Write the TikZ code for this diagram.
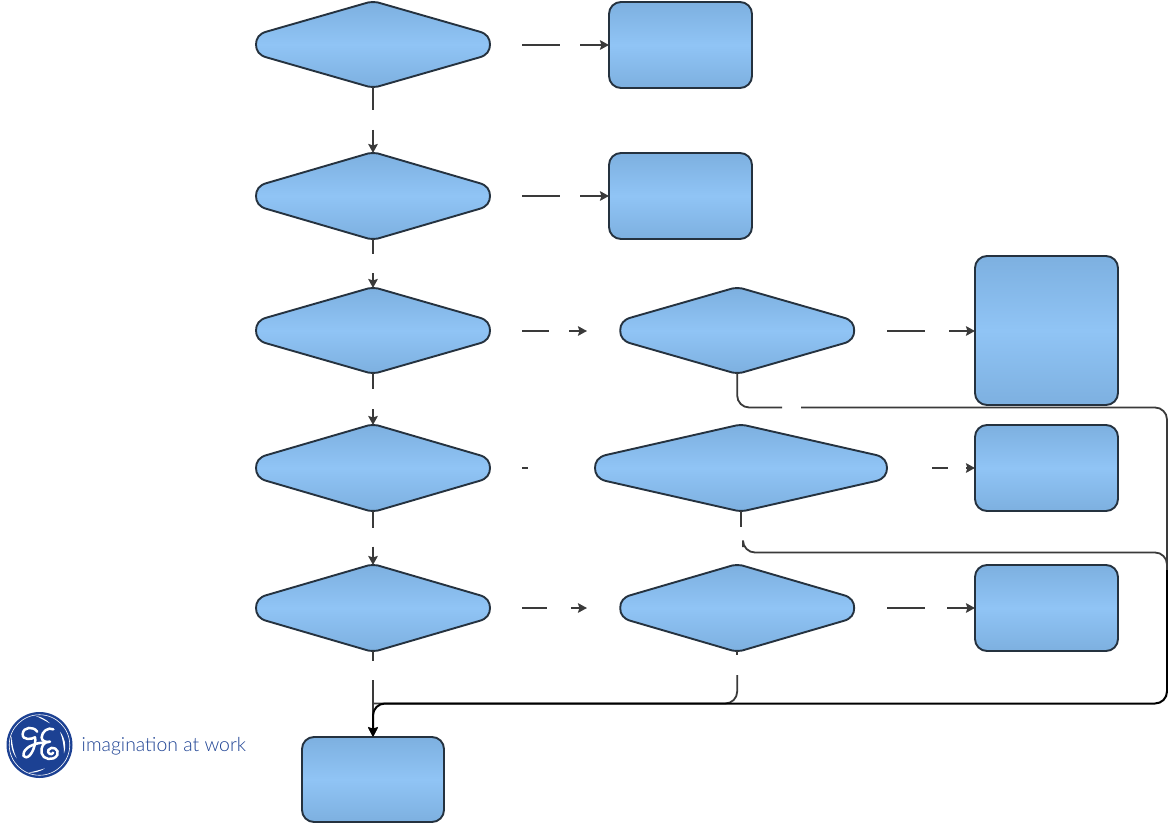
\documentclass[tikz,border=0pt]{standalone}
\usepackage{fontspec}
\newfontfamily\logofont[UprightFont={* Light}]{Lato}
\usetikzlibrary{arrows.meta,calc}
\definecolor{edgeblue}{HTML}{7DB0E0}
\definecolor{midblue}{HTML}{90C4F5}
\definecolor{outl}{HTML}{25323F}
\definecolor{conn}{HTML}{3A3A3A}
\definecolor{geblue}{HTML}{1C4193}
\tikzset{
  x=1pt,y=-1pt,
  shapefill/.style={draw=outl,line width=1.9pt,line join=round,top color=edgeblue,bottom color=edgeblue,middle color=midblue},
  flow/.style={draw=conn,line width=2pt},
  tipped/.style={flow,-{Stealth[length=9pt,width=9.5pt,inset=1.5pt]}},
  longflow/.style={flow,line width=1.8pt,rounded corners=12pt},
  trunk/.style={draw=black,line width=2pt,rounded corners=12pt,-{Stealth[length=10pt,width=10pt,inset=1.5pt]}},
  gelogo/.style={white,line width=2.5pt,line cap=round,line join=round},
}
% name, cx, cy, half width, half height
\newcommand{\flowdia}[5]{%
  \begin{scope}[shift={(#2,#3)}]
    \pgfmathsetmacro{\hw}{#4}\pgfmathsetmacro{\hh}{#5}
    \pgfmathsetmacro{\sx}{\hw-11}
    \pgfmathsetmacro{\tx}{\hw-3}
    \pgfmathsetmacro{\my}{\hh-.5}
    \path[shapefill] (-5,-\my) .. controls (-2,-\hh) and (2,-\hh) .. (5,-\my)
      -- (\sx,-13) .. controls (\tx,-11) and (\hw,-6) .. (\hw,0)
      .. controls (\hw,6) and (\tx,11) .. (\sx,13)
      -- (5,\my) .. controls (2,\hh) and (-2,\hh) .. (-5,\my)
      -- (-\sx,13) .. controls (-\tx,11) and (-\hw,6) .. (-\hw,0)
      .. controls (-\hw,-6) and (-\tx,-11) .. (-\sx,-13) -- cycle;
    \node[inner sep=0pt,outer sep=0pt,minimum width=2*#4 pt,minimum height=2*#5 pt] (#1) at (0,0) {};
  \end{scope}}
% name, x1, y1, x2, y2
\newcommand{\flowbox}[5]{%
  \path[shapefill,rounded corners=12pt] (#2,#3) rectangle (#4,#5);
  \node[inner sep=0pt,outer sep=0pt,minimum width=#4pt-#2pt,minimum height=#5pt-#3pt] (#1) at ({(#2+#4)/2},{(#3+#5)/2}) {};}
\begin{document}
\begin{tikzpicture}
\useasboundingbox (0,0) rectangle (1168,824);
\fill[white] (0,0) rectangle (1168,824);
% shapes
\flowdia{d1}{373}{44.5}{117}{42.5}
\flowdia{d2}{373}{196}{117}{43}
\flowdia{d3}{373}{330.5}{117}{42.5}
\flowdia{d4}{373}{468}{117}{43}
\flowdia{d5}{373}{608}{117}{43}
\flowdia{e3}{737.2}{330.5}{117}{42.5}
\flowdia{e4}{741}{468}{146}{43}
\flowdia{e5}{737.2}{608}{117}{43}
\flowbox{r1}{609}{2}{752}{88}
\flowbox{r2}{609}{153}{752}{239}
\flowbox{r3}{975}{256}{1118}{405}
\flowbox{r4}{975}{425}{1118}{511}
\flowbox{r5}{975}{565}{1118}{651}
\flowbox{r6}{302}{737}{444}{822}
% free ends of the connector pieces
\foreach \n/\x/\y in {
  a1/522/45, a2/560/45, a3/580/45,
  b1/522/196, b2/560/196, b3/580/196,
  c1/522/331, c2/549/331, c3/569/331, c4/587/331,
  f1/522/468, f2/528/468,
  h1/522/608, h2/547/608, h3/571/608, h4/587/608,
  i1/887/331, i2/925/331, i3/949/331,
  j1/932/468, j2/948/468, j3/966/468,
  k1/887/608, k2/925/608, k3/947/608,
  v1/373/110.5, v2/373/130,
  v3/373/253.5, v4/373/273,
  v5/373/388.5, v6/373/409,
  v7/373/527.5, v8/373/546.5,
  v9/373/661, v10/373/680,
  p1/737.2/407.5, p2/782/407.5, p3/801/407.5, p4/1167/407.5, p5/1167/703.5, p6/373/703.5,
  q1/741/527, q2/743/547, q3/743/552.5, q4/1167/552.5,
  s1/737.2/655, s2/737.2/675, s3/737.2/703.5, t1/1167/570}
  {\coordinate (\n) at (\x,\y);}
% horizontal connectors
\draw[flow] (a1) -- (a2);
\draw[tipped] (a3) -- (a3 -| r1.west);
\draw[flow] (b1) -- (b2);
\draw[tipped] (b3) -- (r2.west);
\draw[flow] (c1) -- (c2);
\draw[tipped] (c3) -- (c4);
\draw[flow] (f1) -- (f2);
\draw[flow] (h1) -- (h2);
\draw[tipped] (h3) -- (h4);
\draw[flow] (i1) -- (i2);
\draw[tipped] (i3) -- (i3 -| r3.west);
\draw[flow] (j1) -- (j2);
\draw[tipped] (j3) -- (r4.west);
\draw[flow] (k1) -- (k2);
\draw[tipped] (k3) -- (r5.west);
% vertical connectors
\draw[flow] (d1.south) -- (v1);
\draw[tipped] (v2) -- (d2.north);
\draw[flow] (d2.south) -- (v3);
\draw[tipped] (v4) -- (d3.north);
\draw[flow] (d3.south) -- (v5);
\draw[tipped] (v6) -- (d4.north);
\draw[flow] (d4.south) -- (v7);
\draw[tipped] (v8) -- (d5.north);
\draw[flow] (d5.south) -- (v9);
\draw[tipped] (v10) -- (r6.north);
% long return connectors
\draw[longflow] (e3.south) -- (p1) -- (p2);
\draw[longflow] (p3) -- (p4) -- (t1);
\draw[flow,line width=1.8pt] (e4.south) -- (q1);
\draw[longflow] (q2) -- (q3) -- (q4) -- (t1);
\draw[longflow] (e5.south) -- (s1);
\draw[longflow] (s2) -- (s3) -- (p6);
\draw[trunk] (t1) -- (p5) -- (p6) -- (r6.north);
% logo
\node[circle,fill=geblue,inner sep=0pt,minimum size=66pt] (gecircle) at (39.5,745) {};
\node[circle,draw=white,line width=.6pt,inner sep=0pt,minimum size=60.5pt] (gering) at (39.5,745) {};
\begin{scope}[shift={(0,700)},x=.3333pt,y=-.3333pt]
  \draw[gelogo] (112,95) .. controls (100,78) and (70,80) .. (68,102)
     .. controls (67,122) and (95,118) .. (105,112)
     .. controls (110,130) and (95,172) .. (78,172)
     .. controls (62,172) and (70,145) .. (98,135)
     .. controls (110,130) and (122,128) .. (130,128);
  \draw[gelogo] (160,88) .. controls (145,80) and (125,95) .. (125,112)
     .. controls (125,122) and (135,128) .. (150,125)
     .. controls (130,125) and (122,140) .. (125,160)
     .. controls (128,178) and (160,185) .. (172,165)
     .. controls (180,148) and (155,135) .. (145,150)
     .. controls (140,160) and (155,168) .. (160,158);
  \fill[white] (108,48) .. controls (125,50) and (140,60) .. (150,70) .. controls (138,64) and (125,56) .. (108,48) -- cycle;
  \fill[white] (180,95) .. controls (195,115) and (200,135) .. (192,160) .. controls (192,140) and (188,115) .. (180,95) -- cycle;
  \fill[white] (135,205) .. controls (120,215) and (100,220) .. (85,218) .. controls (100,215) and (120,210) .. (135,205) -- cycle;
  \fill[white] (50,175) .. controls (35,155) and (30,130) .. (35,108) .. controls (36,130) and (40,155) .. (50,175) -- cycle;
\end{scope}
\node[anchor=west,inner sep=0pt,text=geblue,font=\logofont\fontsize{19.4}{20}\selectfont] (getext) at (81.5,746.5) {imagination at work};
\end{tikzpicture}
\end{document}
